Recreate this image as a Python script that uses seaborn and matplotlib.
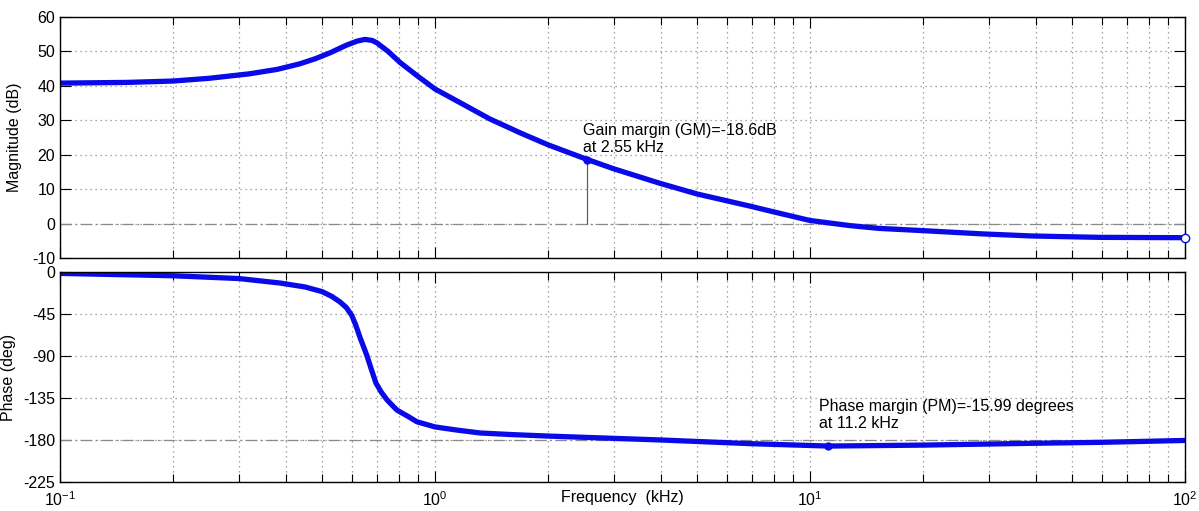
import matplotlib
matplotlib.use("Agg")
import matplotlib.pyplot as plt
import matplotlib.ticker as mticker
import seaborn as sns
import pandas as pd
import numpy as np

# ---- data ----
freq_mag = [0.1, 0.15, 0.2, 0.25, 0.32, 0.38, 0.436, 0.48, 0.525, 0.58, 0.62, 0.65, 0.68,
            0.70, 0.75, 0.807, 0.9, 1.0, 1.2, 1.4, 1.7, 2.0, 2.55, 3.0, 3.98, 5.0,
            6.9, 8.0, 10.0, 12.8, 15.3, 19.6, 28.9, 39.0, 59.0, 100.0]
mag_db = [40.8, 41.0, 41.4, 42.2, 43.5, 44.8, 46.4, 47.9, 49.6, 51.8, 53.0, 53.5, 53.2,
          52.5, 50.0, 46.8, 42.8, 39.1, 34.4, 30.4, 26.2, 22.9, 18.6, 15.9, 11.7, 8.6,
          5.1, 3.4, 0.9, -0.6, -1.4, -2.0, -3.0, -3.6, -4.0, -4.1]

freq_phase = [0.1, 0.2, 0.3, 0.386, 0.45, 0.5, 0.53, 0.558, 0.58, 0.6, 0.615, 0.631, 0.645,
              0.659, 0.675, 0.696, 0.72, 0.745, 0.77, 0.792, 0.85, 0.895, 1.0, 1.15, 1.32,
              1.6, 2.0, 4.0, 7.0, 11.2, 20.0, 40.0, 60.0, 100.0]
phase_deg = [-1.5, -4.0, -7.0, -11.8, -16.0, -21.0, -26.0, -32.0, -38.0, -46.5, -57.0, -70.0, -80.0,
             -90.0, -103.0, -119.0, -129.0, -137.0, -143.0, -148.0, -155.0, -160.5, -166.0, -169.5, -172.5,
             -174.2, -175.8, -180.0, -184.0, -186.5, -185.5, -183.5, -182.5, -180.5]

gm_freq, gm_val = 2.55, 18.6
pm_freq, pm_val = 11.2, -186.5
gm_text = "Gain margin (GM)=-18.6dB\nat 2.55 kHz"
pm_text = "Phase margin (PM)=-15.99 degrees\nat 11.2 kHz"

mag_ticks = [60, 50, 40, 30, 20, 10, 0, -10]
phase_ticks = [0, -45, -90, -135, -180, -225]
x_ticks = [0.1, 1, 10, 100]
x_ticklabels = [r"$\mathregular{10^{-1}}$", r"$\mathregular{10^{0}}$",
                r"$\mathregular{10^{1}}$", r"$\mathregular{10^{2}}$"]

sns.set_style("white")
plt.rcParams["font.family"] = ["Liberation Sans", "DejaVu Sans"]
plt.rcParams["font.size"] = 11.5
plt.rcParams["axes.unicode_minus"] = False
plt.rcParams["text.color"] = "black"
plt.rcParams["axes.labelcolor"] = "black"
plt.rcParams["xtick.color"] = "black"
plt.rcParams["ytick.color"] = "black"

blue = "#0a0ae8"
gridc = "#8a8a8a"
fs = 11.5

fig = plt.figure(figsize=(11.99, 5.11), dpi=100)
ax1 = fig.add_axes([0.0500, 0.4951, 0.9383, 0.4716])
ax2 = fig.add_axes([0.0500, 0.0568, 0.9383, 0.4109])

df_mag = pd.DataFrame({"f": freq_mag, "m": mag_db})
df_ph = pd.DataFrame({"f": freq_phase, "p": phase_deg})

sns.lineplot(data=df_mag, x="f", y="m", ax=ax1, color=blue, linewidth=3.8, sort=True)
sns.lineplot(data=df_ph, x="f", y="p", ax=ax2, color=blue, linewidth=3.8, sort=True)

for ax in (ax1, ax2):
    ax.set_xscale("log")
    ax.set_xlim(0.1, 100)
    ax.xaxis.set_major_locator(mticker.FixedLocator(x_ticks))
    ax.xaxis.set_minor_locator(mticker.LogLocator(base=10, subs=np.arange(2, 10)))
    ax.grid(True, which="major", axis="both", color=gridc, linestyle=(0, (1, 3)), linewidth=0.9)
    ax.grid(True, which="minor", axis="x", color=gridc, linestyle=(0, (1, 3)), linewidth=0.9)
    ax.tick_params(which="major", direction="in", length=8, width=0.8,
                   top=True, right=True, bottom=True, left=True, labelsize=fs,
                   colors="black", labelcolor="black")
    ax.tick_params(which="minor", direction="in", length=6, width=0.8,
                   top=True, bottom=True, left=False, right=False)
    for s in ax.spines.values():
        s.set_color("black")
        s.set_linewidth(1.0)
    ax.set_axisbelow(True)

# magnitude axes
ax1.set_ylim(-10, 60)
ax1.set_yticks(mag_ticks)
ax1.set_xticklabels([])
ax1.xaxis.set_minor_formatter(mticker.NullFormatter())
ax1.set_xlabel("")
ax1.set_ylabel("Magnitude (dB)", fontsize=fs, color="black")
ax1.yaxis.set_label_coords(-0.0335, 0.5)
ax1.axhline(0, color=gridc, linestyle=(0, (9, 3, 1.5, 3)), linewidth=0.9, zorder=1)
ax1.plot([gm_freq, gm_freq], [0, gm_val], color="#606060", linewidth=0.9, zorder=2)
ax1.plot([gm_freq], [gm_val], marker="o", markersize=5, color=blue, zorder=4)
ax1.plot([freq_mag[-1]], [mag_db[-1]], marker="o", markersize=6, markerfacecolor="white",
         markeredgecolor=blue, markeredgewidth=1.0, clip_on=False, zorder=5)
ax1.text(2.48, 24.6, gm_text, fontsize=fs, va="center", ha="left", linespacing=1.2, color="black")

# phase axes
ax2.set_ylim(-225, 0)
ax2.set_yticks(phase_ticks)
ax2.set_xticklabels(x_ticklabels)
ax2.xaxis.set_minor_formatter(mticker.NullFormatter())
ax2.tick_params(axis="x", which="major", pad=6)
ax2.set_ylabel("Phase (deg)", fontsize=fs, color="black")
ax2.yaxis.set_label_coords(-0.0395, 0.5)
ax2.set_xlabel("Frequency  (kHz)", fontsize=fs, labelpad=-14, color="black")
ax2.axhline(-180, color=gridc, linestyle=(0, (9, 3, 1.5, 3)), linewidth=0.9, zorder=1)
ax2.plot([pm_freq], [pm_val], marker="o", markersize=5, color=blue, zorder=4)
ax2.text(10.57, -153, pm_text, fontsize=fs, va="center", ha="left", linespacing=1.2, color="black")

fig.savefig("out.png", dpi=100)
